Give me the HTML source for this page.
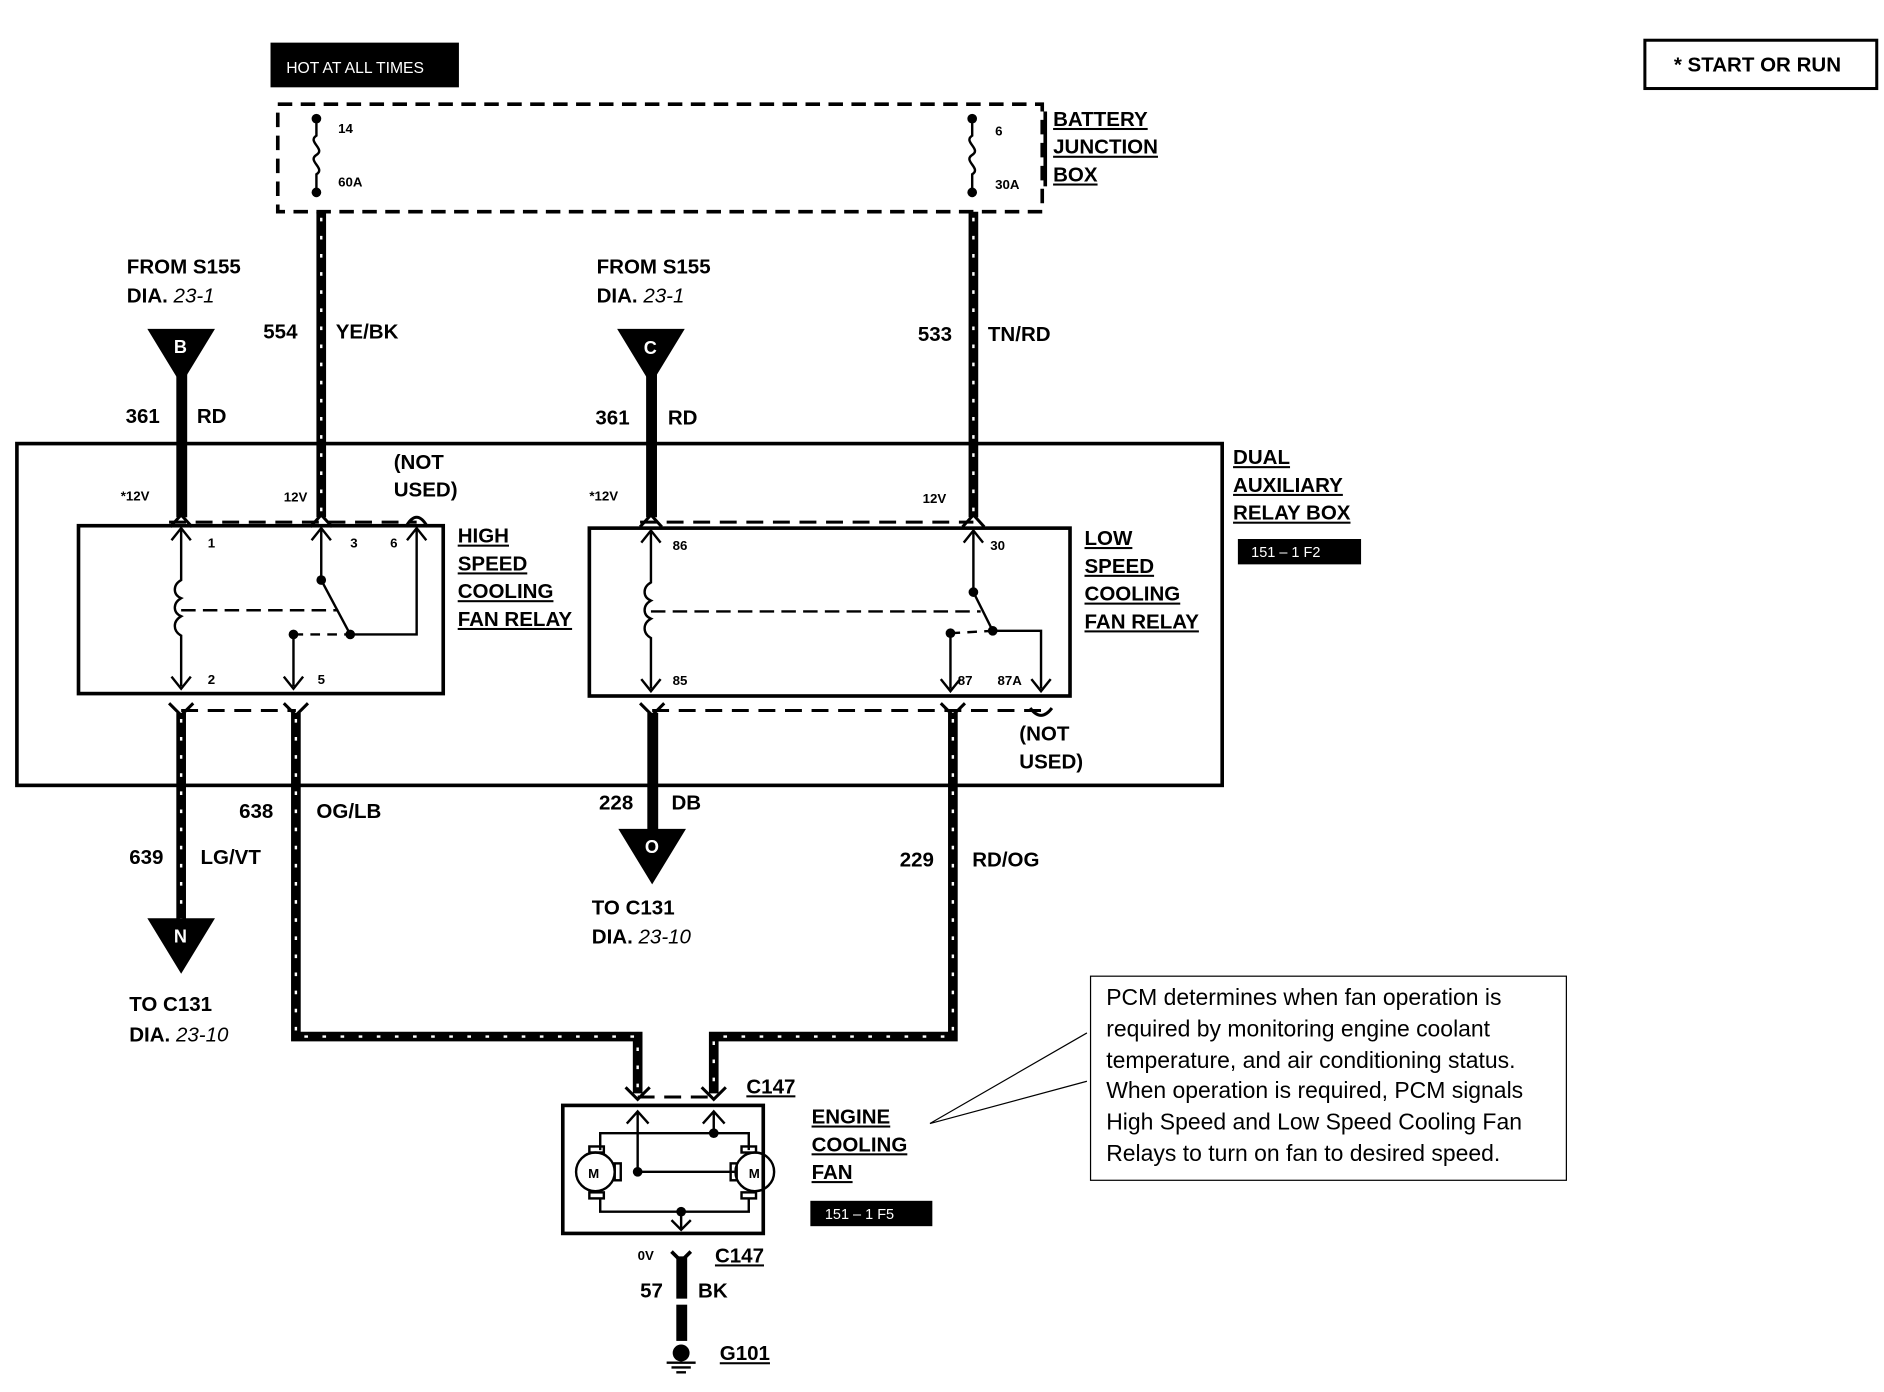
<!DOCTYPE html>
<html><head><meta charset="utf-8"><style>
html,body{margin:0;padding:0;background:#fff;}
svg{display:block}
text{font-family:"Liberation Sans",Arial,sans-serif;font-weight:bold;fill:#000;font-size:17px}
.s{font-size:11px}
.u{text-decoration:underline}
.n{font-weight:normal;font-size:19px}
.i{font-style:italic;font-weight:normal}
</style></head><body>
<svg width="1884" height="1392" viewBox="0 0 1560 1152" xmlns="http://www.w3.org/2000/svg">
<defs>
<g id="up"><path d="M-9,9 L0,0 L9,9 M0,0 L0,0" fill="none" stroke="#000" stroke-width="2.5"/></g>
<g id="dn"><path d="M-9,-9 L0,0 L9,-9" fill="none" stroke="#000" stroke-width="2.5"/></g>
</defs>
<!-- START OR RUN -->
<rect x="1362" y="33" width="192" height="40" fill="none" stroke="#000" stroke-width="2.5"/>
<text x="1386" y="59">*  START OR RUN</text>
<!-- HOT AT ALL TIMES -->
<rect x="224" y="35" width="156" height="37" fill="#000"/>
<text x="237" y="60" style="fill:#fff;font-size:13px;font-weight:normal">HOT AT ALL TIMES</text>
<!-- battery junction box -->
<rect x="230" y="86" width="633" height="89" fill="none" stroke="#000" stroke-width="3" stroke-dasharray="12 7"/>
<g fill="none" stroke="#000" stroke-width="2">
<path d="M262,97 L262,112 C254,117 270,123 262,128 C254,133 270,139 262,144 L262,160"/>
<path d="M805,97 L805,112 C797,117 813,123 805,128 C797,133 813,139 805,144 L805,160"/>
</g>
<circle cx="262" cy="98" r="4"/><circle cx="262" cy="159" r="4"/>
<circle cx="805" cy="98" r="4"/><circle cx="805" cy="159" r="4"/>
<text class="s" x="280" y="110">14</text><text class="s" x="280" y="154">60A</text>
<text class="s" x="824" y="112">6</text><text class="s" x="824" y="156">30A</text>
<rect x="864" y="92" width="3" height="62"/>
<text class="u" x="872" y="104">BATTERY</text>
<text class="u" x="872" y="127">JUNCTION</text>
<text class="u" x="872" y="150">BOX</text>
<!-- patterned wires -->
<g fill="none" stroke-linejoin="miter">
<g stroke="#000" stroke-width="8">
<path d="M266,175 L266,428"/><path d="M806,175 L806,428"/>
<path d="M150,590 L150,770"/>
<path d="M245,590 L245,858 L528,858 L528,905"/>
<path d="M789,590 L789,858 L591,858 L591,905"/>
</g>
<g stroke="#fff" stroke-width="2" stroke-dasharray="3 12">
<path d="M266,180 L266,425"/><path d="M806,180 L806,425"/>
<path d="M150,595 L150,765"/>
<path d="M245,595 L245,858 L528,858 L528,900"/>
<path d="M789,595 L789,858 L591,858 L591,900"/>
</g>
</g>
<!-- solid wires -->
<rect x="146" y="300" width="9" height="128"/><rect x="535" y="300" width="9" height="128"/>
<rect x="536" y="590" width="9" height="110"/>
<rect x="560" y="1040" width="9" height="35"/><rect x="560" y="1080" width="9" height="30"/>
<!-- triangles -->
<path d="M122,272 L178,272 L150,318Z"/><text x="144" y="292" style="fill:#fff;font-size:15px">B</text>
<path d="M511,272 L567,272 L539,318Z"/><text x="533" y="293" style="fill:#fff;font-size:15px">C</text>
<path d="M122,760 L178,760 L150,806Z"/><text x="144" y="780" style="fill:#fff;font-size:15px">N</text>
<path d="M512,686 L568,686 L540,732Z"/><text x="534" y="706" style="fill:#fff;font-size:15px">O</text>
<!-- labels -->
<text x="105" y="226">FROM S155</text><text x="105" y="250">DIA. <tspan class="i">23-1</tspan></text>
<text x="494" y="226">FROM S155</text><text x="494" y="250">DIA. <tspan class="i">23-1</tspan></text>
<text x="218" y="280">554</text><text x="278" y="280">YE/BK</text>
<text x="760" y="282">533</text><text x="818" y="282">TN/RD</text>
<text x="104" y="350">361</text><text x="163" y="350">RD</text>
<text x="493" y="351">361</text><text x="553" y="351">RD</text>
<!-- dual relay box -->
<rect x="14" y="367" width="998" height="283" fill="none" stroke="#000" stroke-width="3"/>
<text class="u" x="1021" y="384">DUAL</text>
<text class="u" x="1021" y="407">AUXILIARY</text>
<text class="u" x="1021" y="430">RELAY BOX</text>
<rect x="1025" y="446" width="102" height="21"/><text x="1036" y="461" style="fill:#fff;font-size:12px;font-weight:normal">151 – 1 F2</text>
<text class="s" x="100" y="414">*12V</text><text class="s" x="235" y="415">12V</text>
<text class="s" x="488" y="414">*12V</text><text class="s" x="764" y="416">12V</text>
<text x="326" y="388">(NOT</text><text x="326" y="411">USED)</text>
<text x="844" y="613">(NOT</text><text x="844" y="636">USED)</text>
<!-- connectors -->
<g fill="none" stroke="#000" stroke-width="2.5">
<path d="M140,432 L345,432" stroke-dasharray="14 8"/>
<path d="M141,436 L150,426 L159,436 M257,436 L266,426 L275,436 M336,436 Q345,420 354,436"/>
<path d="M150,588 L245,588" stroke-dasharray="14 8"/>
<path d="M140,582 L150,592 L160,582 M235,582 L245,592 L255,582"/>
<path d="M530,432 L806,432" stroke-dasharray="14 8"/>
<path d="M530,436 L539,426 L548,436 M797,436 L806,426 L815,436"/>
<path d="M540,588 L870,588" stroke-dasharray="14 8"/>
<path d="M530,582 L540,592 L550,582 M779,582 L789,592 L799,582 M853,586 Q862,598 871,586"/>
</g>
<!-- high relay -->
<rect x="65" y="435" width="302" height="139" fill="none" stroke="#000" stroke-width="3"/>
<g fill="none" stroke="#000" stroke-width="2">
<path d="M150,437 L150,480 C143,484 143,492 150,495 C143,499 143,507 150,510 C143,514 143,522 150,526 L150,568"/>
<path d="M142,447 L150,437 L158,447 M142,560 L150,570 L158,560"/>
<path d="M266,437 L266,480 L290,525 L345,525 L345,437"/>
<path d="M258,447 L266,437 L274,447 M337,447 L345,437 L353,447"/>
<path d="M150,505 L280,505" stroke-dasharray="12 6"/>
<path d="M243,525 L290,525" stroke-dasharray="8 6"/>
<path d="M243,525 L243,568 M235,560 L243,570 L251,560"/>
</g>
<circle cx="266" cy="480" r="4"/><circle cx="290" cy="525" r="4"/><circle cx="243" cy="525" r="4"/>
<text class="s" x="172" y="453">1</text><text class="s" x="290" y="453">3</text><text class="s" x="323" y="453">6</text>
<text class="s" x="172" y="566">2</text><text class="s" x="263" y="566">5</text>
<text class="u" x="379" y="449">HIGH</text><text class="u" x="379" y="472">SPEED</text>
<text class="u" x="379" y="495">COOLING</text><text class="u" x="379" y="518">FAN RELAY</text>
<!-- low relay -->
<rect x="488" y="437" width="398" height="139" fill="none" stroke="#000" stroke-width="3"/>
<g fill="none" stroke="#000" stroke-width="2">
<path d="M539,439 L539,482 C532,486 532,494 539,497 C532,501 532,509 539,512 C532,516 532,524 539,528 L539,570"/>
<path d="M531,449 L539,439 L547,449 M531,562 L539,572 L547,562"/>
<path d="M806,439 L806,490 L822,522 L862,522 L862,570"/>
<path d="M798,449 L806,439 L814,449 M854,562 L862,572 L870,562"/>
<path d="M539,506 L812,506" stroke-dasharray="12 6"/>
<path d="M787,524 L822,522" stroke-dasharray="8 6"/>
<path d="M787,524 L787,570 M779,562 L787,572 L795,562"/>
</g>
<circle cx="806" cy="490" r="4"/><circle cx="822" cy="522" r="4"/><circle cx="787" cy="524" r="4"/>
<text class="s" x="557" y="455">86</text><text class="s" x="820" y="455">30</text>
<text class="s" x="557" y="567">85</text><text class="s" x="793" y="567">87</text><text class="s" x="826" y="567">87A</text>
<text class="u" x="898" y="451">LOW</text><text class="u" x="898" y="474">SPEED</text>
<text class="u" x="898" y="497">COOLING</text><text class="u" x="898" y="520">FAN RELAY</text>
<!-- lower labels -->
<text x="198" y="677">638</text><text x="262" y="677">OG/LB</text>
<text x="107" y="715">639</text><text x="166" y="715">LG/VT</text>
<text x="496" y="670">228</text><text x="556" y="670">DB</text>
<text x="745" y="717">229</text><text x="805" y="717">RD/OG</text>
<text x="490" y="757">TO C131</text><text x="490" y="781">DIA. <tspan class="i">23-10</tspan></text>
<text x="107" y="837">TO C131</text><text x="107" y="862">DIA. <tspan class="i">23-10</tspan></text>
<!-- fan -->
<g fill="none" stroke="#000" stroke-width="2.5">
<path d="M518,900 L528,910 L538,900 M581,900 L591,910 L601,900"/>
<path d="M528,908 L591,908" stroke-dasharray="14 8"/>
</g>
<text class="u" x="618" y="905">C147</text>
<rect x="466" y="915" width="166" height="106" fill="none" stroke="#000" stroke-width="3"/>
<g fill="none" stroke="#000" stroke-width="2">
<path d="M519,930 L528,920 L537,930 M528,920 L528,970 L610,970"/>
<path d="M582,930 L591,920 L600,930 M591,920 L591,938"/>
<path d="M497,952 L497,938 L620,938 L620,952"/>
<path d="M497,992 L497,1003 L620,1003 L620,992"/>
<path d="M564,1003 L564,1018 M556,1010 L564,1018 L572,1010"/>
<circle cx="493" cy="970" r="16"/><circle cx="625" cy="970" r="16"/>
<rect x="488" y="949" width="12" height="5"/><rect x="488" y="987" width="12" height="5"/>
<rect x="614" y="949" width="12" height="5"/><rect x="614" y="987" width="12" height="5"/>
<rect x="509" y="963" width="5" height="14"/><rect x="605" y="963" width="5" height="14"/>
</g>
<circle cx="528" cy="970" r="4"/><circle cx="591" cy="938" r="4"/><circle cx="564" cy="1003" r="4"/>
<text x="487" y="975" style="font-size:11px">M</text><text x="620" y="975" style="font-size:11px">M</text>
<text class="u" x="672" y="930">ENGINE</text><text class="u" x="672" y="953">COOLING</text><text class="u" x="672" y="976">FAN</text>
<rect x="671" y="994" width="101" height="21"/><text x="683" y="1009" style="fill:#fff;font-size:12px;font-weight:normal">151 – 1 F5</text>
<!-- ground -->
<path d="M556,1036 L564,1044 L572,1036" fill="none" stroke="#000" stroke-width="3"/>
<text class="s" x="528" y="1043">0V</text>
<text class="u" x="592" y="1045">C147</text>
<text x="530" y="1074">57</text><text x="578" y="1074">BK</text>
<circle cx="564" cy="1120" r="7"/>
<path d="M552,1128 L576,1128 M556,1132 L572,1132 M560,1136 L568,1136" stroke="#000" stroke-width="2"/>
<text class="u" x="596" y="1126">G101</text>
<!-- note -->
<rect x="903" y="808" width="394" height="169" fill="none" stroke="#000" stroke-width="1"/>
<path d="M770,930 L900,855 M770,930 L900,895" stroke="#000" stroke-width="1" fill="none"/>
<text class="n" x="916" y="832">PCM determines when fan operation is</text>
<text class="n" x="916" y="858">required by monitoring engine coolant</text>
<text class="n" x="916" y="884">temperature, and air conditioning status.</text>
<text class="n" x="916" y="909">When operation is required, PCM signals</text>
<text class="n" x="916" y="935">High Speed and Low Speed Cooling Fan</text>
<text class="n" x="916" y="961">Relays to turn on fan to desired speed.</text>
</svg>
</body></html>
